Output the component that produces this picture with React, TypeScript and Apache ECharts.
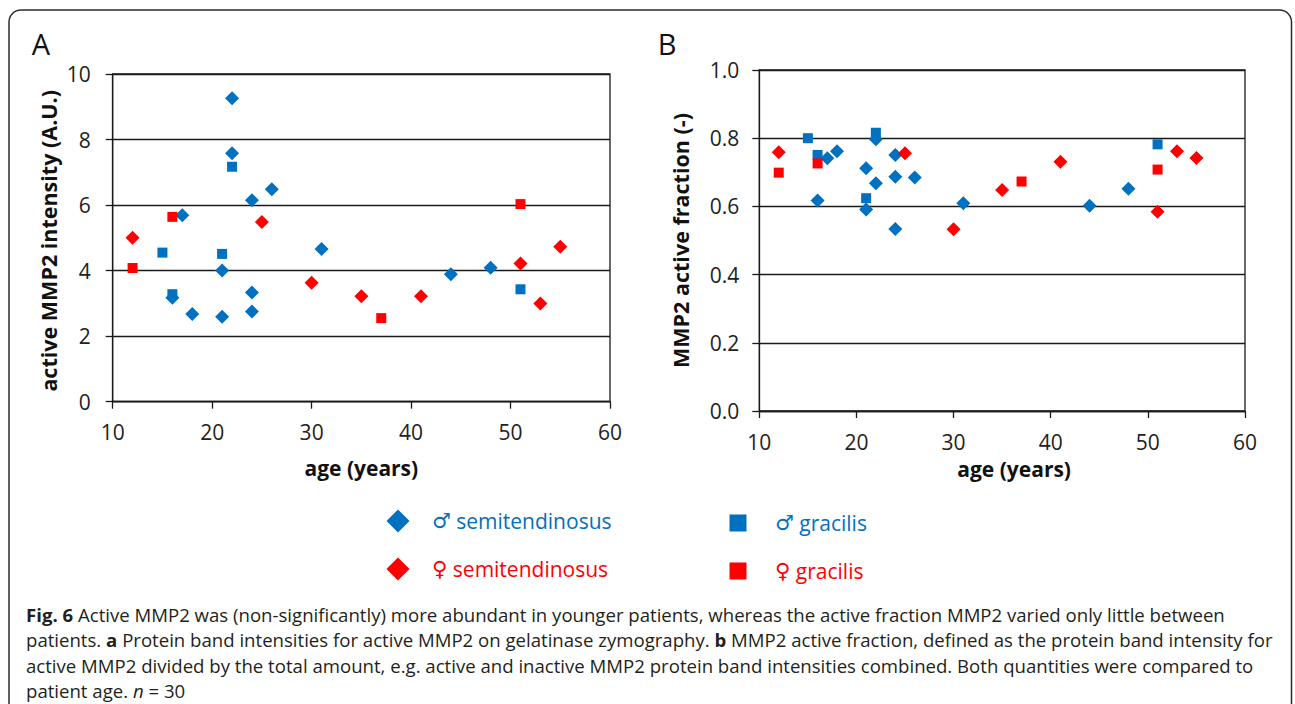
import React, { useEffect, useRef } from "react";
import * as echarts from "echarts";

// ---- Data (age in years, value) ----
const xTicks = [10, 20, 30, 40, 50, 60];

// Panel A: active MMP2 intensity (A.U.)
const maleSemiA = [[22, 9.26], [22, 7.58], [24, 6.15], [26, 6.48], [17, 5.69], [21, 4.0], [31, 4.66], [16, 3.17], [24, 3.33], [18, 2.68], [21, 2.59], [24, 2.75], [44, 3.89], [48, 4.09]];
const maleGracA = [[15, 4.55], [16, 3.28], [21, 4.51], [22, 7.17], [51, 3.43]];
const femSemiA = [[12, 5.0], [25, 5.48], [30, 3.63], [35, 3.22], [41, 3.22], [51, 4.22], [53, 3.0], [55, 4.73]];
const femGracA = [[12, 4.08], [16, 5.64], [37, 2.55], [51, 6.03]];

// Panel B: MMP2 active fraction (-)
const maleSemiB = [[22, 0.797], [16, 0.617], [17, 0.741], [18, 0.762], [21, 0.712], [22, 0.668], [21, 0.591], [24, 0.751], [24, 0.687], [26, 0.685], [24, 0.534], [31, 0.609], [44, 0.602], [48, 0.652]];
const maleGracB = [[15, 0.8], [16, 0.751], [22, 0.816], [21, 0.624], [51, 0.782]];
const femSemiB = [[12, 0.759], [25, 0.756], [30, 0.533], [35, 0.648], [41, 0.731], [51, 0.584], [53, 0.762], [55, 0.742]];
const femGracB = [[12, 0.699], [16, 0.726], [37, 0.673], [51, 0.708]];

const seriesNames = ["♂ semitendinosus", "♂ gracilis", "♀ semitendinosus", "♀ gracilis"];
const titleA = "active MMP2 intensity (A.U.)";
const titleB = "MMP2 active fraction (-)";
const xTitle = "age (years)";

const captionLines = [
  "{b|Fig. 6} Active MMP2 was (non-significantly) more abundant in younger patients, whereas the active fraction MMP2 varied only little between",
  "patients. {b|a} Protein band intensities for active MMP2 on gelatinase zymography. {b|b} MMP2 active fraction, defined as the protein band intensity for",
  "active MMP2 divided by the total amount, e.g. active and inactive MMP2 protein band intensities combined. Both quantities were compared to",
  "patient age. {i|n} = 30",
];

const BLUE = "#0070C0";
const RED = "#FF0000";
const INK = "#1a1a1a";
const FONT = "'Open Sans', 'Noto Sans', sans-serif";
const SYMFONT = "'DejaVu Sans', sans-serif";

export default function App() {
  const ref = useRef<HTMLDivElement>(null);

  useEffect(() => {
    if (!ref.current) return;
    const chart = echarts.init(ref.current, null, { renderer: "svg" });

    const axisLine = { show: true, onZero: false, lineStyle: { color: INK, width: 1.3 } };
    const axisTick = { show: true, inside: false, length: 7, lineStyle: { color: INK, width: 1.3 } };
    const labelStyle = { color: "#222", fontSize: 21, fontFamily: FONT };
    const nameStyleX = { color: "#111", fontSize: 21, fontWeight: "bold" as const, fontFamily: FONT };
    const nameStyleY = { color: "#111", fontSize: 21.5, fontWeight: "bold" as const, fontFamily: FONT };

    const mkX = (gridIndex: number, gap: number, shift: number) => ({
      type: "value" as const,
      gridIndex,
      min: xTicks[0],
      max: xTicks[xTicks.length - 1],
      interval: 10,
      axisLine,
      axisTick,
      axisLabel: { ...labelStyle, margin: 20 },
      splitLine: { show: false },
      name: xTitle,
      nameLocation: "middle" as const,
      nameGap: gap,
      nameTextStyle: { ...nameStyleX, padding: [0, 0, 0, shift] },
    });

    const colors = [BLUE, BLUE, RED, RED];
    const symbols = ["diamond", "rect", "diamond", "rect"];
    const sizes = [14, 10, 14, 10];
    const dataA = [maleSemiA, maleGracA, femSemiA, femGracA];
    const dataB = [maleSemiB, maleGracB, femSemiB, femGracB];

    const series: any[] = [];
    [dataA, dataB].forEach((set, gi) => {
      set.forEach((d, i) => {
        series.push({
          type: "scatter",
          name: seriesNames[i],
          xAxisIndex: gi,
          yAxisIndex: gi,
          data: d,
          symbol: symbols[i],
          symbolSize: sizes[i],
          itemStyle: { color: colors[i], opacity: 1 },
          emphasis: { disabled: true },
        });
      });
    });

    const legendPos = [
      { left: 386.5, top: 509.5, w: 23, pad: 17.5 },
      { left: 729.5, top: 512.5, w: 17, pad: 23.5 },
      { left: 386.5, top: 557.5, w: 23, pad: 17.5 },
      { left: 729.5, top: 560.5, w: 17, pad: 23.5 },
    ];
    const legend = seriesNames.map((n, i) => ({
      data: [{ name: n, icon: symbols[i] }],
      left: legendPos[i].left,
      top: legendPos[i].top,
      padding: 0,
      itemWidth: legendPos[i].w,
      itemHeight: legendPos[i].w,
      selectedMode: false,
      formatter: (name: string) => "{s|" + name.slice(0, 1) + "} " + name.slice(2),
      textStyle: {
        fontSize: 21,
        fontFamily: FONT,
        color: colors[i],
        padding: [0, 0, 0, legendPos[i].pad],
        rich: {
          s: { fontSize: 21, fontFamily: SYMFONT, color: colors[i] },
        },
      },
    }));

    const graphic: any[] = [
      {
        type: "rect",
        shape: { x: 9, y: 10, width: 1282.5, height: 730, r: 12 },
        style: { fill: "none", stroke: "#2b2b2b", lineWidth: 1.5 },
        silent: true,
      },
      { type: "text", x: 41, y: 43, style: { text: "A", fontSize: 29, fontFamily: FONT, fill: "#111", align: "center", verticalAlign: "middle" } },
      { type: "text", x: 667, y: 43, style: { text: "B", fontSize: 29, fontFamily: FONT, fill: "#111", align: "center", verticalAlign: "middle" } },
    ];
    captionLines.forEach((t, i) => {
      graphic.push({
        type: "text",
        x: 26,
        y: 614 + i * 25.5,
        style: {
          text: t,
          fontSize: 18.6,
          lineHeight: 19,
          fontFamily: FONT,
          fill: "#231F20",
          verticalAlign: "middle",
          rich: {
            b: { fontWeight: "bold", fontSize: 18.6, lineHeight: 19, fontFamily: FONT, fill: "#231F20" },
            i: { fontStyle: "italic", fontSize: 18.6, lineHeight: 19, fontFamily: FONT, fill: "#231F20" },
          },
        },
      });
    });

    chart.setOption({
      animation: false,
      backgroundColor: "#fff",
      textStyle: { fontFamily: FONT },
      grid: [
        { left: 112.7, top: 74, width: 497.3, height: 327.7, show: true, borderColor: INK, borderWidth: 1.3, backgroundColor: "transparent" },
        { left: 759.3, top: 70, width: 485.7, height: 341, show: true, borderColor: INK, borderWidth: 1.3, backgroundColor: "transparent" },
      ],
      xAxis: [mkX(0, 56, 0), mkX(1, 47, 24)],
      yAxis: [
        {
          type: "value",
          gridIndex: 0,
          min: 0,
          max: 10,
          interval: 2,
          axisLine,
          axisTick,
          axisLabel: { ...labelStyle, margin: 22 },
          splitLine: { show: true, lineStyle: { color: INK, width: 1.3 } },
          name: titleA,
          nameLocation: "middle",
          nameGap: 53,
          nameTextStyle: { ...nameStyleY, padding: [0, 6, 0, 0] },
        },
        {
          type: "value",
          gridIndex: 1,
          min: 0,
          max: 1,
          interval: 0.2,
          axisLine,
          axisTick,
          axisLabel: { ...labelStyle, margin: 20, formatter: (v: number) => v.toFixed(1) },
          splitLine: { show: true, lineStyle: { color: INK, width: 1.3 } },
          name: titleB,
          nameLocation: "middle",
          nameGap: 68,
          nameTextStyle: nameStyleY,
        },
      ],
      legend,
      graphic,
      series,
    });

    return () => chart.dispose();
  }, []);

  return (
    <div
      ref={ref}
      style={{ position: "absolute", left: 0, top: 0, width: 1295, height: 704, background: "#fff" }}
    />
  );
}
